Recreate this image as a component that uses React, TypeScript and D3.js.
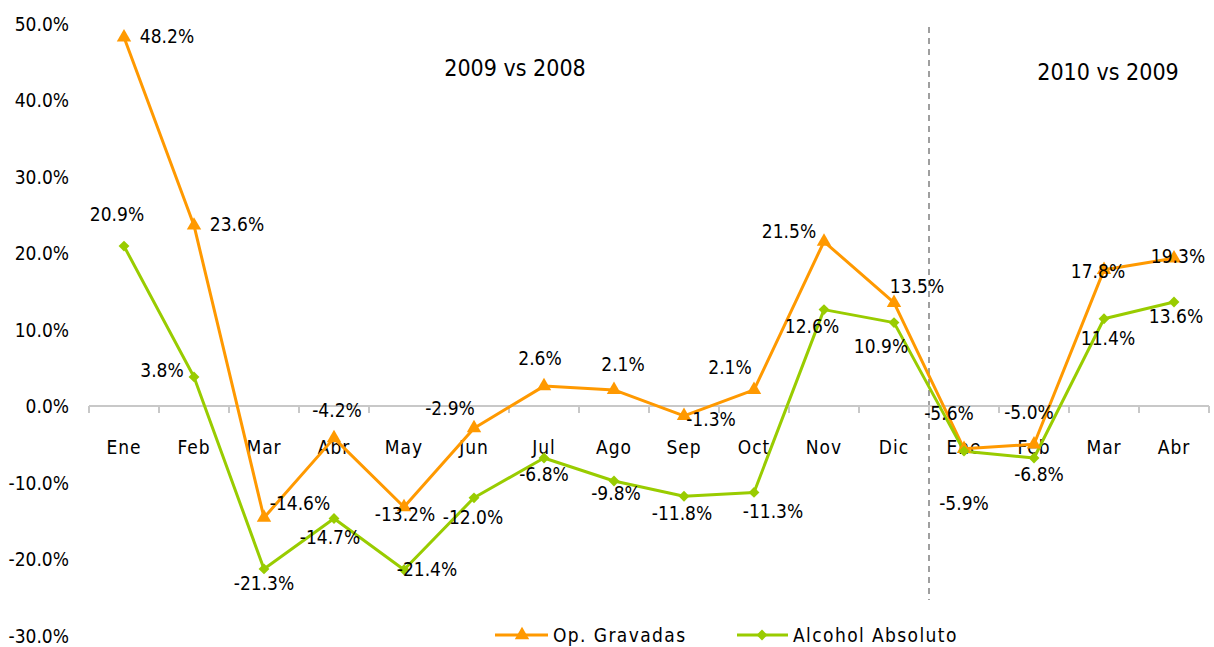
import React from "react";
import * as d3 from "d3";

const categories = ["Ene","Feb","Mar","Abr","May","Jun","Jul","Ago","Sep","Oct","Nov","Dic","Ene","Feb","Mar","Abr"];
const opGravadas = [48.2, 23.6, -14.6, -4.2, -13.2, -2.9, 2.6, 2.1, -1.3, 2.1, 21.5, 13.5, -5.6, -5.0, 17.8, 19.3];
const alcoholAbsoluto = [20.9, 3.8, -21.3, -14.7, -21.4, -12.0, -6.8, -9.8, -11.8, -11.3, 12.6, 10.9, -5.9, -6.8, 11.4, 13.6];
const yTicks = [50, 40, 30, 20, 10, 0, -10, -20, -30];
const periodLabels = ["2009 vs 2008", "2010 vs 2009"];
const seriesNames = ["Op. Gravadas", "Alcohol Absoluto"];

// label offsets (dx, dy) relative to each point
const opOffsets = [[43,-1],[43,-1],[36,-15],[3,-28],[1,7],[-24,-20],[-4,-28],[9,-26],[27,3],[-24,-23],[-35,-11],[23,-17],[-15,-36],[-5,-32],[-6,1],[4,-2]];
const alOffsets = [[-7,-32],[-32,-7],[0,14],[-4,19],[23,-1],[-1,19],[0,16],[2,12],[-2,17],[19,19],[-12,16],[-13,23],[0,52],[5,16],[4,19],[2,14]];

const ORANGE = "#FF9900";
const GREEN = "#99CC00";
const FONT = "'DejaVu Sans Condensed', 'DejaVu Sans', sans-serif";
const pct = (v: number) => d3.format(".1f")(v).replace("\u2212", "-") + "%";

export default function App() {
  const W = 1214, H = 647;
  const x = d3.scaleBand<number>().domain(d3.range(categories.length)).range([89, 1209]);
  const y = d3.scaleLinear().domain([-30, 50]).range([635.5, 23.5]);
  const cx = (i: number) => (x(i) as number) + x.bandwidth() / 2;
  const line = d3.line<number>().x((_, i) => cx(i)).y(d => y(d));
  const y0 = y(0);
  const tri = d3.symbol().type(d3.symbolTriangle).size(90)();
  const dia = d3.symbol().type(d3.symbolDiamond2).size(75)();
  const sepX = x(12) as number;

  return (
    <svg width={W} height={H} style={{ position: "absolute", left: 0, top: 0 }} fontFamily={FONT}>
      {/* y labels */}
      {yTicks.map(t => (
        <text key={t} x={69} y={y(t)} textAnchor="end" dominantBaseline="central" fontSize={19} fill="#000">
          {pct(t)}
        </text>
      ))}
      {/* separator */}
      <line x1={sepX} x2={sepX} y1={27} y2={600} stroke="#808080" strokeWidth={1.5} strokeDasharray="6,5" />
      <text x={515} y={68} textAnchor="middle" dominantBaseline="central" fontSize={23}>{periodLabels[0]}</text>
      <text x={1108} y={72} textAnchor="middle" dominantBaseline="central" fontSize={23}>{periodLabels[1]}</text>
      {/* x axis */}
      <line x1={89} x2={1209} y1={y0} y2={y0} stroke="#C8C8C8" strokeWidth={2} />
      {d3.range(categories.length + 1).map(i => {
        const xx = 89 + i * x.bandwidth();
        return <line key={i} x1={xx} x2={xx} y1={y0} y2={y0 + 7} stroke="#C8C8C8" strokeWidth={2} />;
      })}
      {categories.map((c, i) => (
        <text key={i} x={cx(i)} y={447} textAnchor="middle" dominantBaseline="central" fontSize={19} letterSpacing={1}>{c}</text>
      ))}
      {/* lines */}
      <path d={line(opGravadas) || ""} fill="none" stroke={ORANGE} strokeWidth={3} strokeLinejoin="round" />
      <path d={line(alcoholAbsoluto) || ""} fill="none" stroke={GREEN} strokeWidth={3} strokeLinejoin="round" />
      {opGravadas.map((v, i) => (
        <path key={i} d={tri || ""} transform={`translate(${cx(i)},${y(v)})`} fill={ORANGE} />
      ))}
      {alcoholAbsoluto.map((v, i) => (
        <path key={i} d={dia || ""} transform={`translate(${cx(i)},${y(v)})`} fill={GREEN} />
      ))}
      {/* data labels */}
      {opGravadas.map((v, i) => (
        <text key={i} x={cx(i) + opOffsets[i][0]} y={y(v) + opOffsets[i][1]} textAnchor="middle" dominantBaseline="central" fontSize={19}>
          {pct(v)}
        </text>
      ))}
      {alcoholAbsoluto.map((v, i) => (
        <text key={i} x={cx(i) + alOffsets[i][0]} y={y(v) + alOffsets[i][1]} textAnchor="middle" dominantBaseline="central" fontSize={19}>
          {pct(v)}
        </text>
      ))}
      {/* legend */}
      <g>
        <line x1={495} x2={548} y1={635} y2={635} stroke={ORANGE} strokeWidth={3} />
        <path d={tri || ""} transform="translate(522,635)" fill={ORANGE} />
        <text x={553} y={635} dominantBaseline="central" fontSize={19} letterSpacing={1.4}>{seriesNames[0]}</text>
        <line x1={737} x2={788} y1={635} y2={635} stroke={GREEN} strokeWidth={3} />
        <path d={dia || ""} transform="translate(762,635)" fill={GREEN} />
        <text x={793} y={635} dominantBaseline="central" fontSize={19} letterSpacing={1.4}>{seriesNames[1]}</text>
      </g>
    </svg>
  );
}
